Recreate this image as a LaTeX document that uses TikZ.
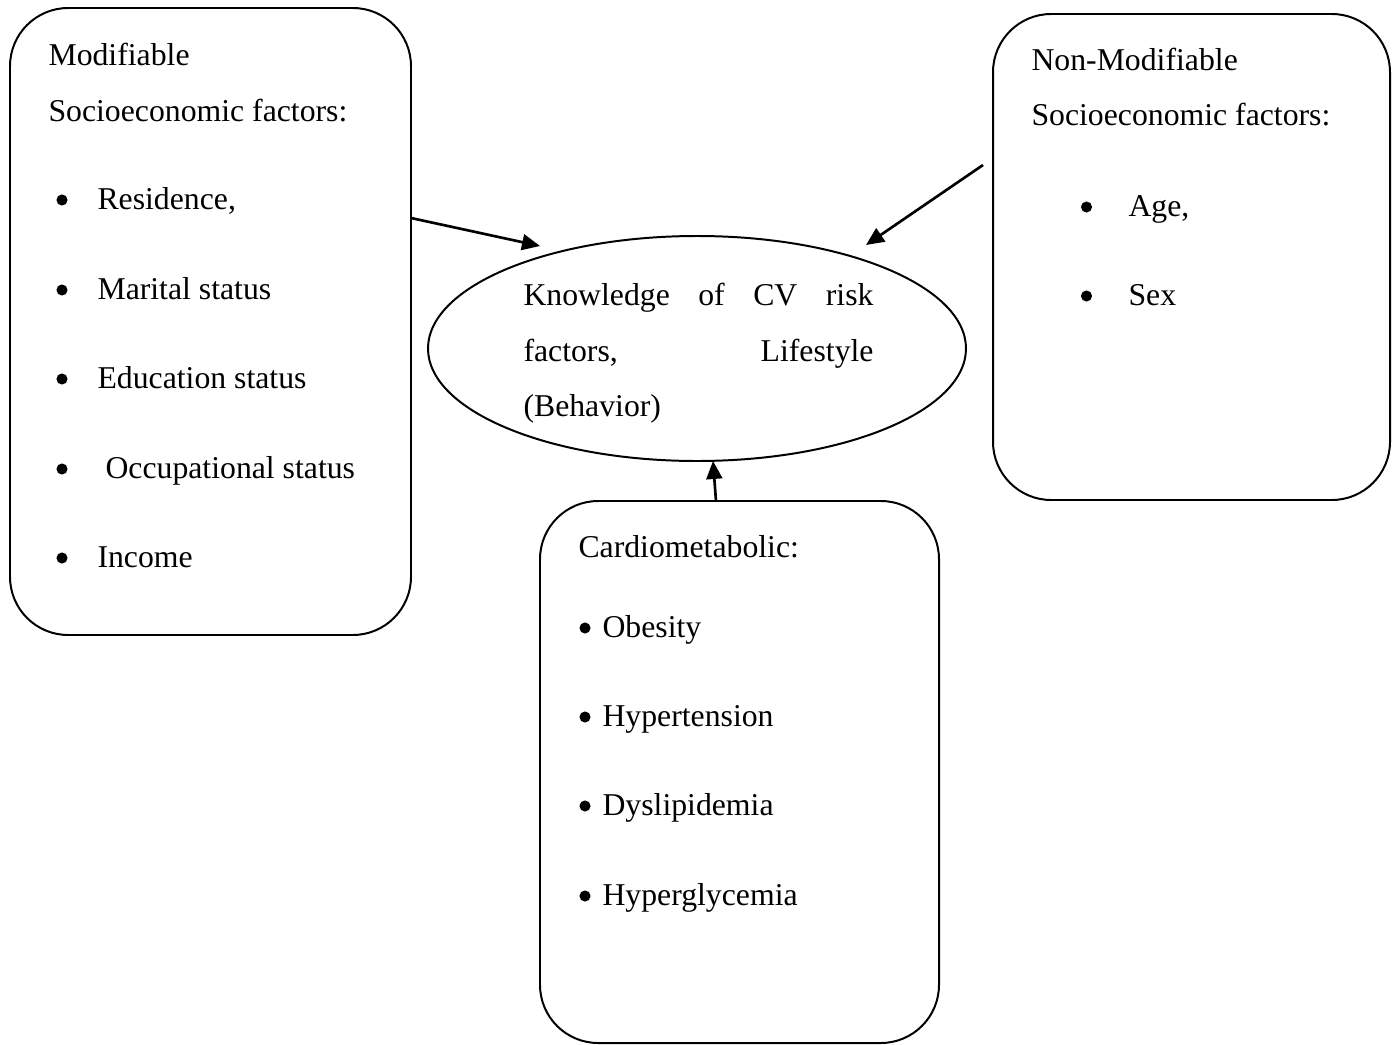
\documentclass[tikz,border=0pt]{standalone}
\usepackage{fontspec}
\setmainfont{Liberation Serif}
\usetikzlibrary{shapes.geometric,arrows.meta}
\newdimen\px
\px=0.378pt
\begin{document}
\begin{tikzpicture}[x=\px, y=-\px, font=\fontsize{12}{14}\selectfont,
    box/.style={draw, line width=0.75pt, rounded corners=22pt, inner sep=0pt, outer sep=0pt},
    txt/.style={anchor=base west, inner sep=0pt},
    dot/.style={circle, fill, inner sep=0pt, minimum size=4.2pt},
    arr/.style={-{Triangle[length=6.8pt, width=6pt]}, line width=1pt}]
    \useasboundingbox (0,0) rectangle (1392,1045);

    % Boxes
    \node[box, minimum width=401*\px, minimum height=627*\px] (modbox) at (210.5,321.5) {};
    \node[box, minimum width=397*\px, minimum height=486*\px] (nonbox) at (1191.5,257) {};
    \node[box, minimum width=399*\px, minimum height=542*\px] (cardbox) at (739.5,772) {};
    \node[draw, ellipse, line width=0.75pt, minimum width=538*\px, minimum height=225*\px,
        inner sep=0pt, outer sep=0pt] (know) at (697,348.5) {};

    % Modifiable factors
    \node[txt] (modtitle) at (48,65) {Modifiable};
    \node[txt] (modsub) at (48,121) {Socioeconomic factors:};
    \node[dot] (mdot1) at (62,200) {};
    \node[txt] (mres) at (97,209) {Residence,};
    \node[dot] (mdot2) at (62,290) {};
    \node[txt] (mmar) at (97,299) {Marital status};
    \node[dot] (mdot3) at (62,379) {};
    \node[txt] (medu) at (97,388) {Education status};
    \node[dot] (mdot4) at (62,469) {};
    \node[txt] (mocc) at (105,478) {Occupational status};
    \node[dot] (mdot5) at (62,558) {};
    \node[txt] (minc) at (97,567) {Income};

    % Non-modifiable factors
    \node[txt] (nontitle) at (1031,70) {Non-Modifiable};
    \node[txt] (nonsub) at (1031,125) {Socioeconomic factors:};
    \node[dot] (ndot1) at (1086.5,207) {};
    \node[txt] (nage) at (1128,216) {Age,};
    \node[dot] (ndot2) at (1086.5,296) {};
    \node[txt] (nsex) at (1128,305) {Sex};

    % Cardiometabolic
    \node[txt] (cardtitle) at (578,557) {Cardiometabolic:};
    \node[dot] (cdot1) at (585,628) {};
    \node[txt] (cobe) at (602,637) {Obesity};
    \node[dot] (cdot2) at (585,717) {};
    \node[txt] (chyp) at (602,726) {Hypertension};
    \node[dot] (cdot3) at (585,806) {};
    \node[txt] (cdys) at (602,815) {Dyslipidemia};
    \node[dot] (cdot4) at (585,896) {};
    \node[txt] (cgly) at (602,905) {Hyperglycemia};

    % Knowledge ellipse
    \node[txt] (know1) at (523,305) {\makebox[350\px][s]{Knowledge of CV risk}};
    \node[txt] (know2) at (523,361) {\makebox[350\px][s]{factors, Lifestyle}};
    \node[txt] (know3) at (523,416) {(Behavior)};

    % Arrows
    \coordinate (a1s) at (411,218);
    \coordinate (a1e) at (540,246);
    \draw[arr] (a1s) -- (a1e);
    \coordinate (a2s) at (983,165);
    \coordinate (a2e) at (866,245);
    \draw[arr] (a2s) -- (a2e);
    \coordinate (a3s) at (716,501);
    \coordinate (a3e) at (713,461);
    \draw[arr] (a3s) -- (a3e);
\end{tikzpicture}
\end{document}
